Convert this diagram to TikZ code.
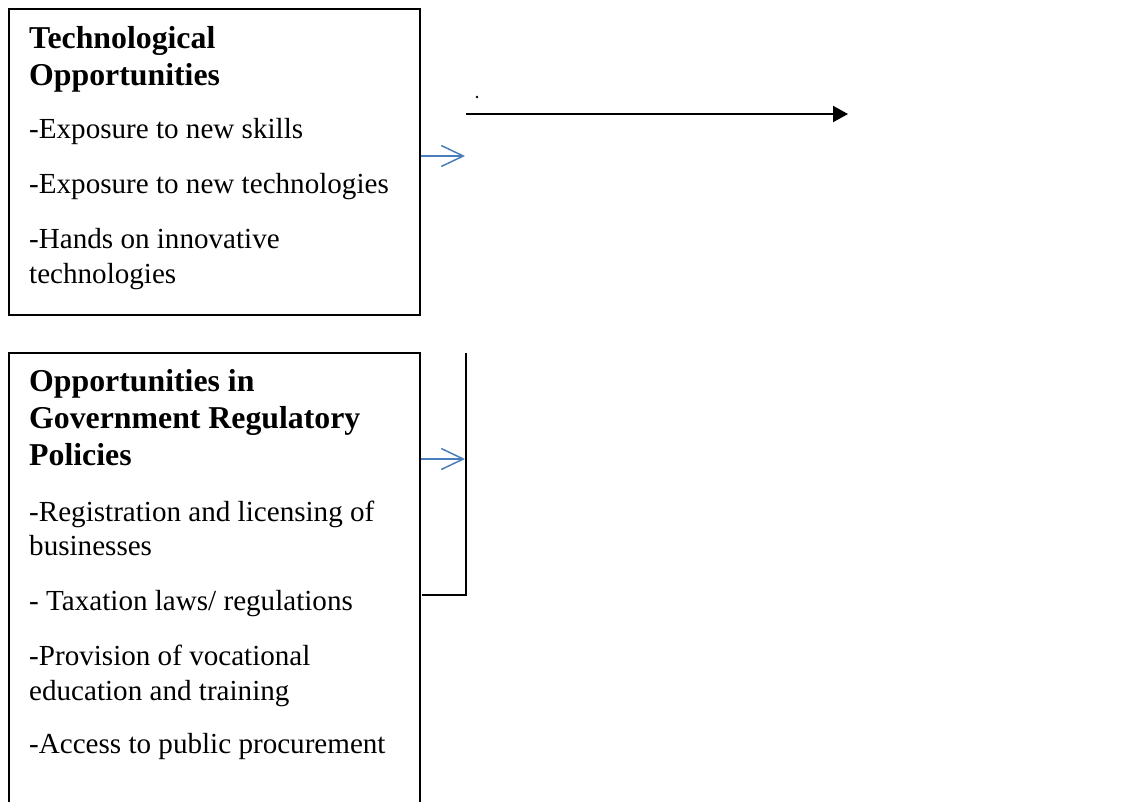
\documentclass[tikz,border=0pt]{standalone}
\usepackage{fontspec}
\setmainfont{Liberation Serif}
\usetikzlibrary{arrows.meta}
\definecolor{wordblue}{RGB}{74,126,187}
\tikzset{
  boxframe/.style={draw=black, line width=1.6pt, rectangle, inner sep=0pt, anchor=north west},
  headtxt/.style={anchor=base west, inner sep=0pt, font=\fontsize{31.8}{37}\selectfont\bfseries},
  bodytxt/.style={anchor=base west, inner sep=0pt, font=\fontsize{29.1}{35}\selectfont},
  bluearrow/.style={draw=wordblue, line width=1.5pt, -{Straight Barb[length=22pt,width=21pt,line width=1.5pt]}},
  blackarrow/.style={draw=black, line width=2pt, -{Triangle[length=15pt,width=16pt]}},
  plainline/.style={draw=black, line width=1.8pt}
}
\begin{document}
\begin{tikzpicture}[x=1pt,y=-1pt]
\clip (0,0) rectangle (1139,801);
\useasboundingbox (0,0) rectangle (1139,801);
% boxes
\node[boxframe, minimum width=411pt, minimum height=306pt] (box1) at (8,8) {};
\node[boxframe, minimum width=411pt, minimum height=480pt] (box2) at (8,352) {};
% box 1 text
\node[headtxt] (h1a) at (29,48) {Technological};
\node[headtxt] (h1b) at (29,85) {Opportunities};
\node[bodytxt] (t1a) at (29,138) {-Exposure to new skills};
\node[bodytxt] (t1b) at (29,193) {-Exposure to new technologies};
\node[bodytxt] (t1c) at (29,248) {-Hands on innovative};
\node[bodytxt] (t1d) at (29,283) {technologies};
% box 2 text
\node[headtxt] (h2a) at (29,391) {Opportunities in};
\node[headtxt] (h2b) at (29,428) {Government Regulatory};
\node[headtxt] (h2c) at (29,465) {Policies};
\node[bodytxt] (t2a) at (29,521) {-Registration and licensing of};
\node[bodytxt] (t2b) at (29,555) {businesses};
\node[bodytxt] (t2c) at (29,610) {- Taxation laws/ regulations};
\node[bodytxt] (t2d) at (29,665) {-Provision of vocational};
\node[bodytxt] (t2e) at (29,700) {education and training};
\node[bodytxt] (t2f) at (29,753) {-Access to public procurement};
% coordinates
\coordinate (b1tip) at (465,156);
\coordinate (b2tip) at (465,459);
\coordinate (kstart) at (466,114);
\coordinate (kend) at (848,114);
\coordinate (vtop) at (466,353);
\coordinate (vbot) at (466,595);
\coordinate (hleft) at (422,595);
\coordinate (dot) at (477,97);
% connectors
\draw[bluearrow] (box1.east |- b1tip) -- (b1tip);
\draw[bluearrow] (box2.east |- b2tip) -- (b2tip);
\draw[blackarrow] (kstart) -- (kend);
\draw[plainline] (hleft) -- (vbot) -- (vtop);
\fill[black] (dot) circle (1.3pt);
\end{tikzpicture}
\end{document}
